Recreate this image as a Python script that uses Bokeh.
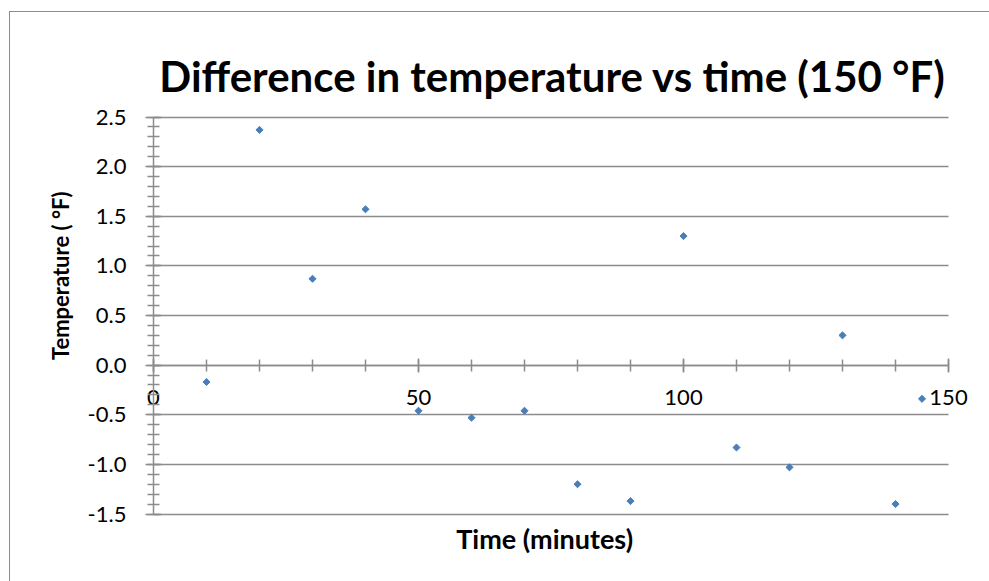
from bokeh.plotting import figure
from bokeh.models import (SingleIntervalTicker, NumeralTickFormatter, Label,
                          LinearAxis, Grid, ColumnDataSource, Range1d)
from bokeh.embed import file_html
from bokeh.resources import INLINE
import math

# Measured temperature difference (°F) against elapsed time (minutes)
time_min = [10, 20, 30, 40, 50, 60, 70, 80, 90, 100, 110, 120, 130, 140, 145]
temp_diff = [-0.17, 2.37, 0.87, 1.57, -0.46, -0.53, -0.46, -1.20, -1.37,
             1.30, -0.83, -1.03, 0.30, -1.40, -0.34]

x_bounds = (0, 150)
y_bounds = (-1.5, 2.5)
x_major_step = 50
y_major_step = 0.5

title_text = "Difference in temperature vs time (150 \u00b0F)"
x_title = "Time (minutes)"
y_title = "Temperature ( \u00b0F)"

FONT = "Lato"
GREY = "#8c8c8c"
BLUE = "#4a7ebb"

# Canvas geometry: the frame fills the whole canvas so that the axes,
# which cross at the origin, can carry their labels outside the data area.
W, H = 979, 569
PX_PER_MIN = 5.3          # horizontal scale
PX_PER_DEG = 99.25        # vertical scale
ORIGIN_X = 143            # canvas x of t = 0
TOP_Y = 104.5             # canvas y of the upper bound of the value axis

x0 = x_bounds[0] - ORIGIN_X / PX_PER_MIN
y1 = y_bounds[1] + TOP_Y / PX_PER_DEG

p = figure(
    frame_width=W, frame_height=H, min_border=0,
    x_range=Range1d(x0, x0 + W / PX_PER_MIN),
    y_range=Range1d(y1 - H / PX_PER_DEG, y1),
    x_axis_location=None, y_axis_location=None,
    output_backend="svg", toolbar_location=None,
    background_fill_color="white", border_fill_color="white",
)
p.margin = (11, 0, 0, 9)
p.styles = {"border-left": "1px solid #8c8c8c", "border-top": "1px solid #8c8c8c"}
p.outline_line_color = None
p.center = []   # drop the default full-width grids

x_ticker = SingleIntervalTicker(interval=x_major_step, num_minor_ticks=5)
y_ticker = SingleIntervalTicker(interval=y_major_step, num_minor_ticks=5)

# Horizontal axis crossing at zero
xa = LinearAxis(ticker=x_ticker, fixed_location=0, bounds=x_bounds)
xa.axis_line_color = GREY
xa.axis_line_width = 1.5
xa.major_tick_line_color = GREY
xa.major_tick_line_width = 1.5
xa.major_tick_in = 7
xa.major_tick_out = 7
xa.minor_tick_line_color = GREY
xa.minor_tick_line_width = 1.5
xa.minor_tick_in = 6
xa.minor_tick_out = 6
xa.major_label_text_font = FONT
xa.major_label_text_font_size = "22px"
xa.major_label_text_color = "black"
xa.major_label_standoff = 18
p.add_layout(xa, "below")

# Vertical axis at t = 0
ya = LinearAxis(ticker=y_ticker, fixed_location=0, bounds=y_bounds,
                formatter=NumeralTickFormatter(format="0.0"))
ya.axis_line_color = GREY
ya.axis_line_width = 1.5
ya.major_tick_line_color = GREY
ya.major_tick_line_width = 1.5
ya.major_tick_in = 8
ya.major_tick_out = 8
ya.minor_tick_line_color = GREY
ya.minor_tick_line_width = 1.5
ya.minor_tick_in = 6
ya.minor_tick_out = 6
ya.major_label_text_font = FONT
ya.major_label_text_font_size = "22px"
ya.major_label_text_color = "black"
ya.major_label_standoff = 19
p.add_layout(ya, "left")

# Horizontal gridlines spanning only the data area
p.add_layout(Grid(dimension=1, ticker=y_ticker, bounds=y_bounds,
                  cross_bounds=x_bounds, grid_line_color=GREY,
                  grid_line_width=1.5))

# Chart title and axis titles
p.add_layout(Label(x=75.3, y=2.91, text=title_text, text_align="center",
                   text_baseline="middle", text_font=FONT,
                   text_font_size="42px", text_font_style="bold",
                   text_color="black"))
p.add_layout(Label(x=73.8, y=-1.75, text=x_title, text_align="center",
                   text_baseline="middle", text_font=FONT,
                   text_font_size="27px", text_font_style="bold",
                   text_color="black"))
p.add_layout(Label(x=-17.5, y=0.9, text=y_title, angle=math.pi / 2,
                   text_align="center", text_baseline="middle",
                   text_font=FONT, text_font_size="22px",
                   text_font_style="bold", text_color="black"))

src = ColumnDataSource(dict(x=time_min, y=temp_diff))
p.scatter("x", "y", source=src, marker="square", size=5, angle=math.pi / 4,
          fill_color=BLUE, line_color=BLUE, line_width=1)

open("out.html", "w").write(file_html(p, INLINE))
